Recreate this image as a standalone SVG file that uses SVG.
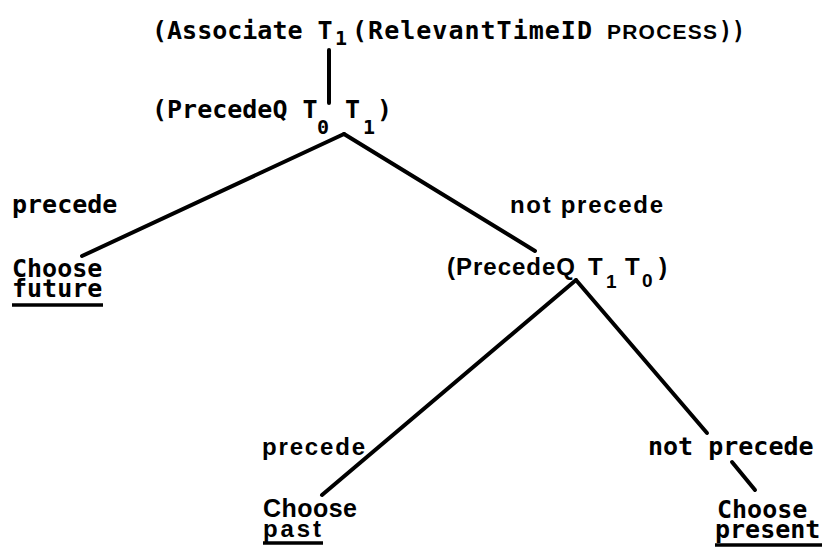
<svg xmlns="http://www.w3.org/2000/svg" width="828" height="548" viewBox="0 0 828 548">
<style>
.mono{font-family:"DejaVu Sans Mono","Liberation Mono",monospace;font-weight:bold;font-size:25px;fill:#000}
.sans{font-family:"Liberation Sans",Arial,sans-serif;font-weight:bold;font-size:24px;fill:#000}
.sub{font-size:20px}
.ssub{font-size:19px}
.sc{font-family:"Liberation Sans",Arial,sans-serif;font-size:21px}
.edge{stroke:#000;stroke-width:4;stroke-linecap:round;fill:none}
.ul{stroke:#000;stroke-width:3.5}
</style>
<rect width="828" height="548" fill="#fff"/>
<g id="connectors">
<line class="edge" x1="329" y1="50" x2="329" y2="103"/>
<line class="edge" x1="344" y1="134" x2="82" y2="256"/>
<line class="edge" x1="344" y1="134" x2="535" y2="251"/>
<line class="edge" x1="576" y1="280" x2="322" y2="495"/>
<line class="edge" x1="576" y1="280" x2="707" y2="433"/>
<line class="edge" x1="732" y1="462" x2="755" y2="490"/>
</g>
<g id="edge-labels">
<text class="mono" x="12" y="213">precede</text>
<text class="sans" x="510" y="213" textLength="153" lengthAdjust="spacing">not precede</text>
<text class="sans" x="262" y="455" textLength="103" lengthAdjust="spacing">precede</text>
<text class="mono" x="648" y="455">not precede</text>
</g>
<g id="node-root">
<text class="mono" x="152" y="39">(Associate T<tspan class="sub" x="335" y="45">1</tspan><tspan x="352" y="39" textLength="240" lengthAdjust="spacing">(RelevantTimeID</tspan><tspan class="sc" x="607" y="39" textLength="110" lengthAdjust="spacing">PROCESS</tspan><tspan x="719" y="39" textLength="26" lengthAdjust="spacingAndGlyphs">))</tspan></text>
</g>
<g id="node-precedeq-t0-t1">
<text class="mono" x="152" y="118">(PrecedeQ T<tspan class="sub" x="317" y="134">0</tspan><tspan x="345" y="118">T</tspan><tspan class="sub" x="363" y="134">1</tspan><tspan x="377" y="118">)</tspan></text>
</g>
<g id="node-future">
<text class="mono" x="12" y="277">Choose</text>
<text class="mono" x="12" y="297">future</text>
<line class="ul" x1="12" y1="305" x2="103" y2="305"/>
</g>
<g id="node-precedeq-t1-t0">
<text class="sans" x="447" y="275"><tspan textLength="128" lengthAdjust="spacing">(PrecedeQ</tspan><tspan x="588" y="275">T</tspan><tspan class="ssub" x="606" y="288">1</tspan><tspan x="625" y="275">T</tspan><tspan class="ssub" x="642" y="287">0</tspan><tspan x="659" y="275">)</tspan></text>
</g>
<g id="node-past">
<text class="sans" x="263" y="517" style="font-size:25px" textLength="94" lengthAdjust="spacing">Choose</text>
<text class="sans" x="263" y="537" textLength="58" lengthAdjust="spacing">past</text>
<line class="ul" x1="263" y1="543" x2="323" y2="543"/>
</g>
<g id="node-present">
<text class="mono" x="717" y="518">Choose</text>
<text class="mono" x="715" y="538">present</text>
<line class="ul" x1="715" y1="545" x2="822" y2="545"/>
</g>
</svg>
